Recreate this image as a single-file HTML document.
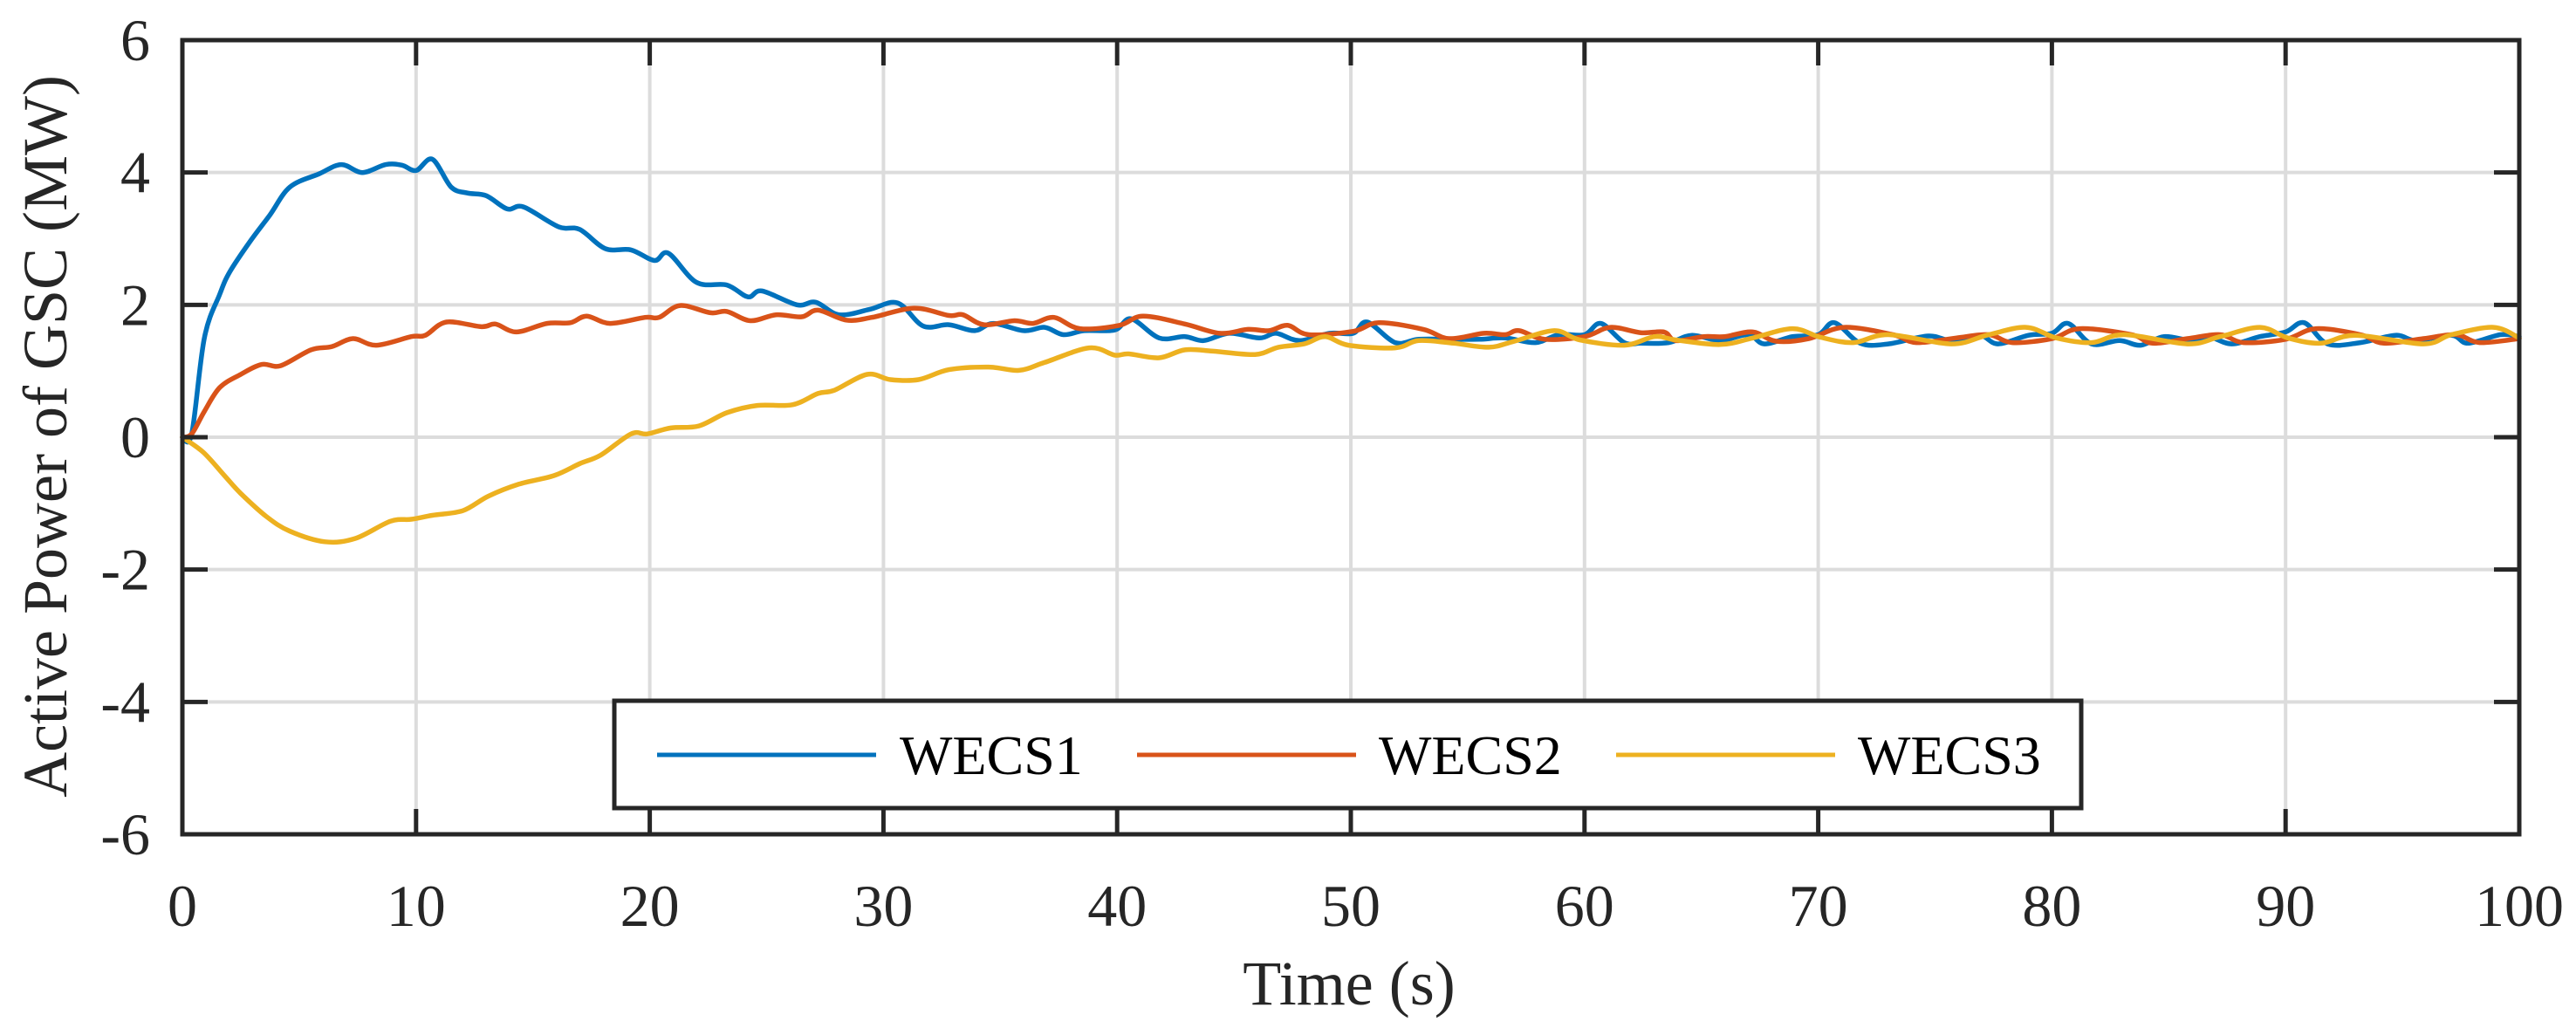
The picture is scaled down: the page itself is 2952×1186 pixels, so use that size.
<!DOCTYPE html>
<html><head><meta charset="utf-8"><style>
html,body{margin:0;padding:0;background:#fff;}
svg{display:block;font-family:"Liberation Serif",serif;}
</style></head><body>
<svg id="chart" width="2952" height="1186" viewBox="0 0 2952 1186" xmlns="http://www.w3.org/2000/svg">
<rect x="0" y="0" width="2952" height="1186" fill="#fff"/>
<g id="grid"></g>
<g id="series"></g>
<g id="axes"></g>
<text x="1546" y="1151" font-size="72" text-anchor="middle" fill="#262626">Time (s)</text>
<text transform="translate(76,500) rotate(-90)" font-size="72" text-anchor="middle" fill="#262626">Active Power of GSC (MW)</text>
<g id="legend">
<rect x="704" y="803" width="1681" height="123" fill="#fff" stroke="#262626" stroke-width="5"/>
<line x1="753" y1="865" x2="1004" y2="865" stroke="#0072BD" stroke-width="5"/>
<text x="1031" y="887" font-size="64" fill="#000">WECS1</text>
<line x1="1303" y1="865" x2="1554" y2="865" stroke="#D95319" stroke-width="5"/>
<text x="1580" y="887" font-size="64" fill="#000">WECS2</text>
<line x1="1852" y1="865" x2="2103" y2="865" stroke="#EDB120" stroke-width="5"/>
<text x="2129" y="887" font-size="64" fill="#000">WECS3</text>
</g>
</svg>
<script>
const xTicks = [0,10,20,30,40,50,60,70,80,90,100];
const yTicks = [-6,-4,-2,0,2,4,6];
const seriesNames = ["WECS1","WECS2","WECS3"];
const t1 = [0,0.4,0.94,1.6,2.03,2.9,3.75,4.6,5.85,6.8,7.7,8.7,9.4,10,10.7,11.5,12.2,13,13.9,14.6,16.1,17,18.1,19.2,20.2,20.8,22,23.3,24.2,24.8,26.3,27.1,28.1,29.4,30.6,31.7,32.8,33.9,34.7,36,36.9,37.7,38.6,39.9,40.6,41.8,42.9,43.7,44.8,46.1,46.8,47.8,49.1,50.1,50.7,51.9,52.9,54.2,55.5,56.6,57.9,58.9,60,60.7,61.7,62.4,63.6,64.6,65.8,67,67.7,68.9,70,70.7,71.8,73,74.7,75.7,76.9,77.7,79,80,80.7,81.7,82.9,83.8,84.8,86,86.7,87.7,88.9,90,90.8,91.8,93.2,94.7,95.6,97.1,97.8,99.2,100];
const v1 = [0,0.05,1.5,2.16,2.5,2.96,3.36,3.78,3.98,4.12,4.0,4.12,4.11,4.03,4.2,3.78,3.69,3.65,3.45,3.48,3.18,3.14,2.85,2.83,2.67,2.78,2.34,2.3,2.12,2.21,2.0,2.04,1.85,1.93,2.03,1.68,1.7,1.61,1.72,1.61,1.66,1.55,1.61,1.62,1.79,1.5,1.52,1.46,1.57,1.5,1.57,1.46,1.57,1.57,1.74,1.43,1.48,1.48,1.48,1.5,1.43,1.55,1.55,1.72,1.43,1.42,1.43,1.54,1.46,1.55,1.41,1.52,1.55,1.73,1.42,1.41,1.53,1.46,1.54,1.41,1.54,1.57,1.72,1.41,1.46,1.39,1.52,1.46,1.52,1.41,1.52,1.59,1.73,1.41,1.43,1.54,1.46,1.54,1.42,1.55,1.52];
const t2 = [0,0.4,0.94,1.6,2.5,3.4,4.2,5.5,6.4,7.3,8.3,9.8,10.4,11.3,12.8,13.4,14.3,15.6,16.6,17.3,18.3,19.8,20.4,21.3,22.6,23.3,24.3,25.4,26.5,27.2,28.4,29.5,31.3,32.8,33.4,34.3,35.6,36.4,37.3,38.4,40.1,41.1,42.9,44.4,45.6,46.5,47.3,48.2,50.1,51.2,53.1,54.2,55.7,56.6,57.2,58.3,60,61.1,62.4,63.4,63.9,65.1,66,67.2,68.2,69.6,71.1,73.2,74.2,75.9,77.3,78.3,80,81.2,83.4,84.3,85.8,87.2,88.2,90,91.3,93.2,94.2,95.9,97.3,98.3,100];
const v2 = [0,0.05,0.39,0.75,0.95,1.1,1.08,1.32,1.37,1.49,1.39,1.52,1.54,1.74,1.67,1.71,1.59,1.72,1.73,1.83,1.72,1.81,1.81,1.99,1.88,1.9,1.76,1.85,1.82,1.92,1.77,1.81,1.95,1.84,1.85,1.7,1.76,1.72,1.81,1.64,1.69,1.83,1.71,1.57,1.63,1.61,1.69,1.55,1.6,1.73,1.63,1.49,1.57,1.55,1.61,1.48,1.52,1.66,1.58,1.59,1.46,1.52,1.52,1.59,1.45,1.49,1.66,1.55,1.43,1.5,1.55,1.43,1.49,1.64,1.55,1.42,1.49,1.55,1.43,1.48,1.64,1.55,1.42,1.49,1.55,1.43,1.49];
const t3 = [0,0.9,1.8,2.5,3.6,4.6,6.1,7.4,8.9,9.8,10.7,12,13.1,14.4,15.9,17,17.9,19.2,19.9,20.9,22.1,23.3,24.6,26.1,27.2,27.9,29.3,30.3,31.5,32.8,34.5,35.8,36.9,38.8,39.9,40.5,41.8,42.9,44.1,45.9,46.9,48,48.9,49.9,51.9,52.9,54.4,55.9,57,58.7,59.8,61.7,63,63.9,65.8,67.2,68.9,70.1,71.5,73,75.7,77.3,78.9,80.2,81.7,83.1,85.8,87.2,88.9,90.1,91.5,93,95.9,97.1,98.9,100];
const v3 = [0,-0.23,-0.58,-0.85,-1.2,-1.42,-1.58,-1.53,-1.27,-1.24,-1.18,-1.11,-0.89,-0.71,-0.58,-0.4,-0.27,0.05,0.05,0.14,0.17,0.37,0.48,0.49,0.66,0.71,0.95,0.87,0.87,1.02,1.06,1.01,1.13,1.35,1.24,1.26,1.2,1.32,1.3,1.25,1.36,1.41,1.52,1.39,1.35,1.46,1.42,1.36,1.45,1.61,1.47,1.39,1.52,1.47,1.4,1.5,1.64,1.51,1.43,1.55,1.41,1.55,1.66,1.5,1.43,1.55,1.41,1.52,1.66,1.5,1.42,1.54,1.41,1.55,1.66,1.5];

const L=209,R=2887,T=46,B=956,XMIN=0,XMAX=100,YMIN=-6,YMAX=6;
function sx(v){return L+(v-XMIN)/(XMAX-XMIN)*(R-L);}
function sy(v){return B-(v-YMIN)/(YMAX-YMIN)*(B-T);}
const NS="http://www.w3.org/2000/svg";
function mk(tag,attrs,parent){const e=document.createElementNS(NS,tag);for(const k in attrs)e.setAttribute(k,attrs[k]);parent.appendChild(e);return e;}
const grid=document.getElementById('grid'),axes=document.getElementById('axes'),series=document.getElementById('series');
xTicks.forEach(v=>{
  const g=mk('line',{x1:sx(v),y1:T,x2:sx(v),y2:B,stroke:'#dcdcdc','stroke-width':4},grid);
  
  
  const a=mk('line',{x1:sx(v),y1:B,x2:sx(v),y2:B-29,stroke:'#262626','stroke-width':5},axes);
  
  
  const b=mk('line',{x1:sx(v),y1:T,x2:sx(v),y2:T+29,stroke:'#262626','stroke-width':5},axes);
  
  
  const tx=mk('text',{x:sx(v),y:B+105,'font-size':68,'text-anchor':'middle',fill:'#262626'},axes);
  tx.textContent=String(v);
  
  
});
yTicks.forEach(v=>{
  const g=mk('line',{x1:L,y1:sy(v),x2:R,y2:sy(v),stroke:'#dcdcdc','stroke-width':4},grid);
  
  
  const a=mk('line',{x1:L,y1:sy(v),x2:L+29,y2:sy(v),stroke:'#262626','stroke-width':5},axes);
  
  
  const b=mk('line',{x1:R,y1:sy(v),x2:R-29,y2:sy(v),stroke:'#262626','stroke-width':5},axes);
  
  
  const tx=mk('text',{x:172,y:sy(v)+23,'font-size':68,'text-anchor':'end',fill:'#262626'},axes);
  tx.textContent=String(v);
  
  
});
const frame=mk('rect',{x:L,y:T,width:R-L,height:B-T,fill:'none',stroke:'#262626','stroke-width':5},axes);


function path(ts,vs){
  const P=ts.map((t,i)=>[sx(t),sy(vs[i])]);
  let d='M'+P[0][0].toFixed(1)+' '+P[0][1].toFixed(1);
  for(let i=0;i<P.length-1;i++){
    const p0=P[i-1]||P[i],p1=P[i],p2=P[i+1],p3=P[i+2]||p2;
    const c1=[p1[0]+(p2[0]-p0[0])/6,p1[1]+(p2[1]-p0[1])/6];
    const c2=[p2[0]-(p3[0]-p1[0])/6,p2[1]-(p3[1]-p1[1])/6];
    d+='C'+c1[0].toFixed(1)+' '+c1[1].toFixed(1)+' '+c2[0].toFixed(1)+' '+c2[1].toFixed(1)+' '+p2[0].toFixed(1)+' '+p2[1].toFixed(1);
  }
  return d;
}
const data=[[t1,v1,'#0072BD','wecs1-line'],[t2,v2,'#D95319','wecs2-line'],[t3,v3,'#EDB120','wecs3-line']];
data.forEach(s=>{
  const p=mk('path',{d:path(s[0],s[1]),fill:'none',stroke:s[2],'stroke-width':5.5,'stroke-linejoin':'round','stroke-linecap':'round'},series);
  
  
});
</script>
</body></html>
